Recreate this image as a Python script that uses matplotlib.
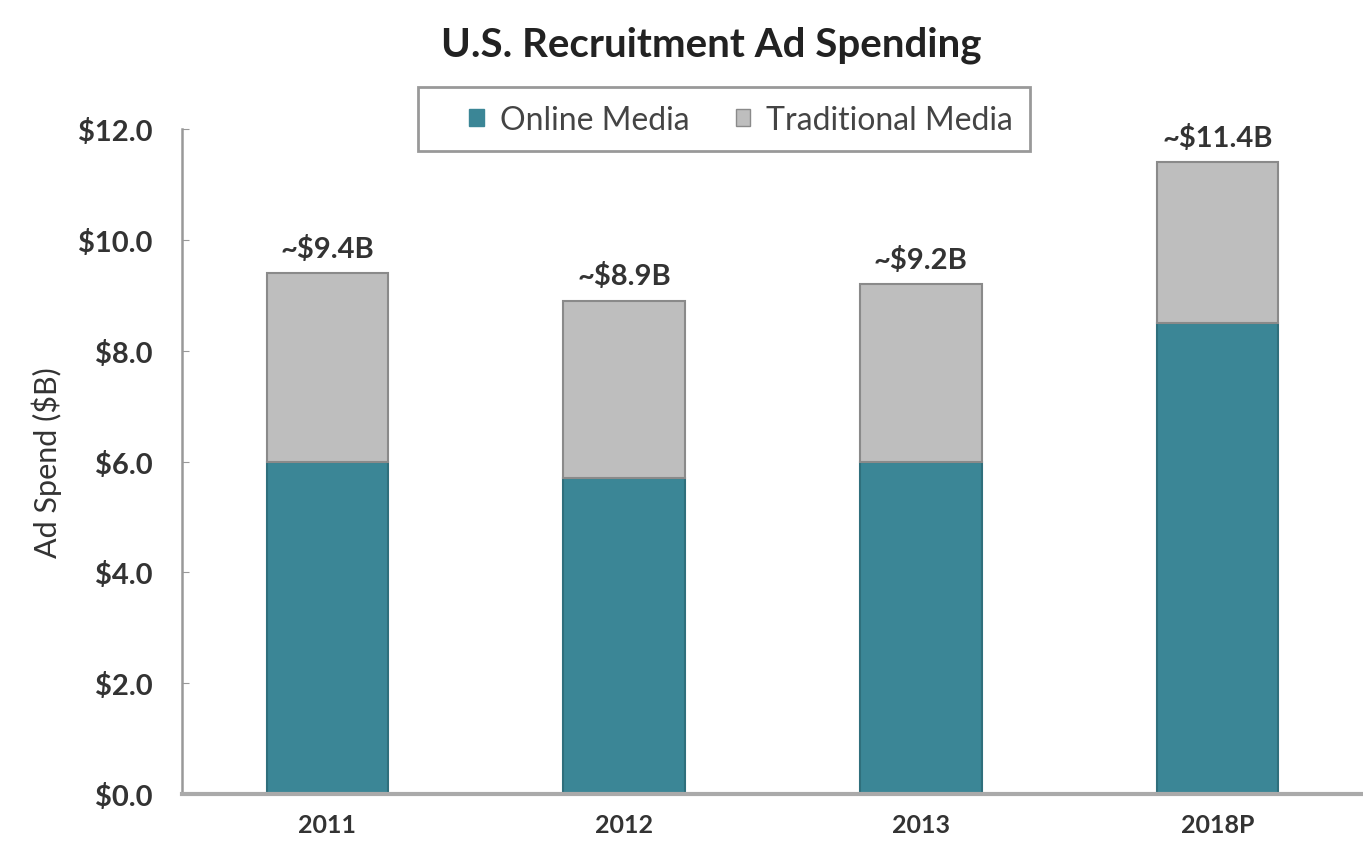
import matplotlib
matplotlib.use("Agg")
import matplotlib.pyplot as plt
from matplotlib.patches import Patch, Rectangle

plt.rcParams['font.family'] = ['Lato', 'DejaVu Sans']

years = ["2011", "2012", "2013", "2018P"]
online = [6.0, 5.7, 6.0, 8.5]
totals = [9.4, 8.9, 9.2, 11.4]
total_labels = ["~$9.4B", "~$8.9B", "~$9.2B", "~$11.4B"]
traditional = [t - o for t, o in zip(totals, online)]
y_ticks = [0, 2, 4, 6, 8, 10, 12]

teal = "#3b8696"
grey = "#bebebe"
edge = "#8a8a8a"
ink = "#333333"

fig = plt.figure(figsize=(13.63, 8.53), dpi=100)
ax = fig.add_axes([0.1335, 0.068, 0.8665, 0.7795])

x = list(range(len(years)))
w = 0.41
ax.bar(x, online, width=w, color=teal, edgecolor="#2f6f7c", linewidth=1.5)
ax.bar(x, traditional, width=w, bottom=online, color=grey, edgecolor=edge, linewidth=1.5)

for xi, t, lab in zip(x, totals, total_labels):
    ax.text(xi, t + 0.45, lab, ha="center", va="center", fontsize=21,
            fontweight="bold", color=ink)

ax.set_xlim(-0.49, 3.49)
ax.set_ylim(0, 12)
ax.set_yticks(y_ticks)
ax.set_yticklabels([f"${v:.1f}" for v in y_ticks], fontsize=21, fontweight="bold", color=ink)
ax.set_xticks(x)
ax.set_xticklabels(years, fontsize=18, fontweight="bold", color=ink)
ax.tick_params(axis="x", length=0, pad=14)
ax.tick_params(axis="y", direction="in", length=5, color="#999999", pad=21)
for s in ("top", "right"):
    ax.spines[s].set_visible(False)
ax.spines["left"].set_color("#999999")
ax.spines["left"].set_linewidth(1.8)
ax.spines["bottom"].set_color("#aaaaaa")
ax.spines["bottom"].set_linewidth(3)

ax.set_ylabel("Ad Spend ($B)", fontsize=22, color=ink, labelpad=12)

fig.text(0.522, 0.947, "U.S. Recruitment Ad Spending", ha="center", va="center",
         fontsize=29, fontweight="bold", color="#222222")

# legend box drawn separately so the entries can sit off-centre inside it
fig.patches.append(Rectangle((418 / 1363, 1 - 152 / 853), 612 / 1363, 64 / 853,
                             transform=fig.transFigure, facecolor="white",
                             edgecolor="#999999", linewidth=2, zorder=1))
handles = [Patch(facecolor=teal, edgecolor=teal, label="Online Media"),
           Patch(facecolor=grey, edgecolor=edge, label="Traditional Media")]
leg = fig.legend(handles=handles, loc="center", bbox_to_anchor=(0.5437, 0.858), ncol=2,
                 fontsize=23, frameon=False,
                 handlelength=0.45, handleheight=0.45, handletextpad=0.5, columnspacing=1.45,
                 borderpad=0.3)
leg.set_zorder(3)
for t in leg.get_texts():
    t.set_color("#444444")

fig.savefig("out.png", dpi=100, facecolor="white")
